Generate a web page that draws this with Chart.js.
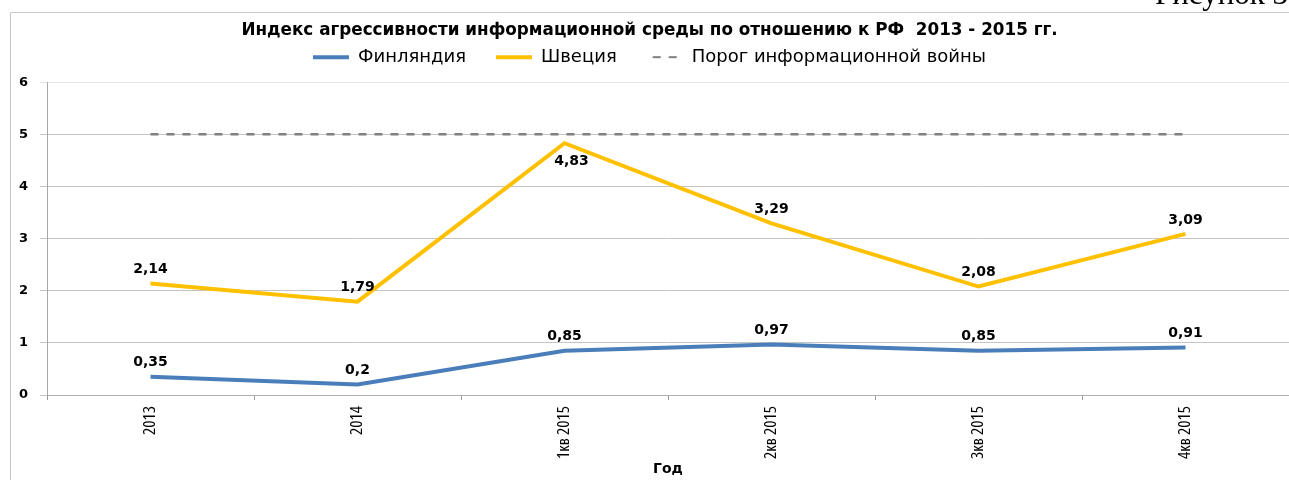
<!DOCTYPE html>
<html>
<head>
<meta charset="utf-8">
<script src="https://cdn.jsdelivr.net/npm/chart.js@4/dist/chart.umd.min.js"></script>
<style>
  html, body { margin: 0; padding: 0; background: #fff; overflow: hidden; }
  #wrap { position: relative; width: 1289px; height: 480px; }
  #fig { position: absolute; left: 1155px; top: -24px; font-family: "Liberation Serif", serif; font-size: 31px; color: #000; white-space: nowrap; }
</style>
</head>
<body>
<div id="wrap">
  <canvas id="chart" width="1289" height="480"></canvas>
  <div id="fig">Рисунок 3</div>
</div>
<script>
// data
const periods = ["2013", "2014", "1кв 2015", "2кв 2015", "3кв 2015", "4кв 2015"];
const finland = [0.35, 0.2, 0.85, 0.97, 0.85, 0.91];
const sweden = [2.14, 1.79, 4.83, 3.29, 2.08, 3.09];
const threshold = [5, 5, 5, 5, 5, 5];
const yTicks = [0, 1, 2, 3, 4, 5, 6];

const BLUE = "#4a7ebb";
const YELLOW = "#ffc000";

// find a narrow font for the rotated category labels
function pickNarrow() {
  const c = document.createElement("canvas").getContext("2d");
  const s = "1кв 2015 abcdef";
  c.font = "16px 'Liberation Sans'";
  const base = c.measureText(s).width;
  const cands = [
    ["", "Liberation Sans Narrow"],
    ["", "DejaVu Sans Condensed"],
    ["condensed", "Open Sans"],
    ["condensed", "Noto Sans"],
    ["condensed", "Roboto"]
  ];
  for (const [w, f] of cands) {
    const pre = w ? w + " " : "";
    c.font = pre + "16px '" + f + "', monospace";
    const a = c.measureText(s).width;
    c.font = pre + "16px '" + f + "', serif";
    const b = c.measureText(s).width;
    if (a === b && a < base * 0.92) return { weight: w || undefined, family: "'" + f + "'" };
  }
  return { weight: undefined, family: "'Liberation Sans'" };
}
const narrow = pickNarrow();

// value labels, comma decimal like the original
const valueLabels = {
  id: "valueLabels",
  afterDatasetsDraw(chart) {
    const ctx = chart.ctx;
    ctx.save();
    ctx.font = "bold 14px 'DejaVu Sans'";
    ctx.fillStyle = "#000";
    ctx.textAlign = "center";
    ctx.textBaseline = "middle";
    chart.data.datasets.forEach((ds, i) => {
      if (!ds.showValues) return;
      chart.getDatasetMeta(i).data.forEach((pt, j) => {
        const txt = String(ds.data[j]).replace(".", ",");
        let dx = 0, dy = -14;
        if (ds.label === "Швеция" && j === 2) { dx = 7; dy = 18; }
        ctx.fillText(txt, pt.x + dx, pt.y + dy);
      });
    });
    ctx.restore();
  }
};

// light outer frame
const frame = {
  id: "frame",
  beforeDraw(chart) {
    const ctx = chart.ctx;
    ctx.save();
    ctx.strokeStyle = "#c8c8c8";
    ctx.lineWidth = 1;
    ctx.beginPath();
    ctx.moveTo(10.5, 480);
    ctx.lineTo(10.5, 12.5);
    ctx.lineTo(1289, 12.5);
    ctx.stroke();
    ctx.restore();
  }
};

// a bit more room under the legend
const legendGap = {
  id: "legendGap",
  beforeInit(chart) {
    const lg = chart.legend;
    if (!lg) return;
    const fit = lg.fit;
    lg.fit = function () { fit.call(this); this.height += 6; };
  }
};

new Chart(document.getElementById("chart"), {
  type: "line",
  data: {
    labels: periods,
    datasets: [
      {
        label: "Финляндия",
        data: finland,
        borderColor: BLUE,
        backgroundColor: BLUE,
        borderWidth: 4,
        pointRadius: 0,
        tension: 0,
        showValues: true
      },
      {
        label: "Швеция",
        data: sweden,
        borderColor: YELLOW,
        backgroundColor: YELLOW,
        borderWidth: 4,
        pointRadius: 0,
        tension: 0,
        showValues: true
      },
      {
        label: "Порог информационной войны",
        data: threshold,
        borderColor: "#808080",
        backgroundColor: "#808080",
        borderWidth: 2.5,
        borderDash: [8, 8],
        pointRadius: 0,
        tension: 0
      }
    ]
  },
  options: {
    responsive: false,
    animation: false,
    layout: { padding: { top: 12, left: 10, right: 0, bottom: 0 } },
    plugins: {
      tooltip: { enabled: false },
      title: {
        display: true,
        text: "Индекс агрессивности информационной среды по отношению к РФ  2013 - 2015 гг.",
        color: "#000",
        font: { family: "'DejaVu Sans'", size: 16.8, weight: "bold" },
        padding: { top: 9, bottom: -23 }
      },
      legend: {
        position: "top",
        labels: {
          color: "#000",
          font: { family: "'DejaVu Sans'", size: 18 },
          usePointStyle: true,
          pointStyle: "line",
          pointStyleWidth: 36,
          padding: 30,
          generateLabels(chart) {
            const items = Chart.defaults.plugins.legend.labels.generateLabels(chart);
            items.forEach((it) => {
              const ds = chart.data.datasets[it.datasetIndex];
              it.lineWidth = ds.borderDash ? 2 : 4;
              it.strokeStyle = ds.borderColor;
              it.lineDash = ds.borderDash || [];
              it.lineDashOffset = ds.borderDash ? -6 : 0;
            });
            return items;
          }
        }
      }
    },
    scales: {
      x: {
        offset: true,
        grid: {
          offset: true,
          drawOnChartArea: false,
          drawTicks: true,
          tickLength: 5,
          color: "#9a9a9a"
        },
        border: { color: "#b0b0b0" },
        ticks: {
          color: "#000",
          font: { family: narrow.family, weight: narrow.weight, size: 17 },
          minRotation: 90,
          maxRotation: 90,
          padding: 6
        },
        title: {
          display: true,
          text: "Год",
          color: "#000",
          font: { family: "'DejaVu Sans'", size: 14, weight: "bold" },
          padding: { top: 0, bottom: 2 }
        },
        afterFit: (scale) => { scale.height = 85; }
      },
      y: {
        min: 0,
        max: 6,
        afterBuildTicks: (scale) => { scale.ticks = yTicks.map(v => ({ value: v })); },
        grid: {
          color: (c) => (c.tick && c.tick.value === 6 ? "#e4e4e4" : "#c4c4c4"),
          tickLength: 7
        },
        border: { color: "#a8a8a8" },
        ticks: {
          color: "#000",
          font: { family: "'DejaVu Sans'", size: 13, weight: "bold" },
          padding: 12
        },
        afterFit: (scale) => { scale.width = 37; }
      }
    }
  },
  plugins: [frame, legendGap, valueLabels]
});
</script>
</body>
</html>
